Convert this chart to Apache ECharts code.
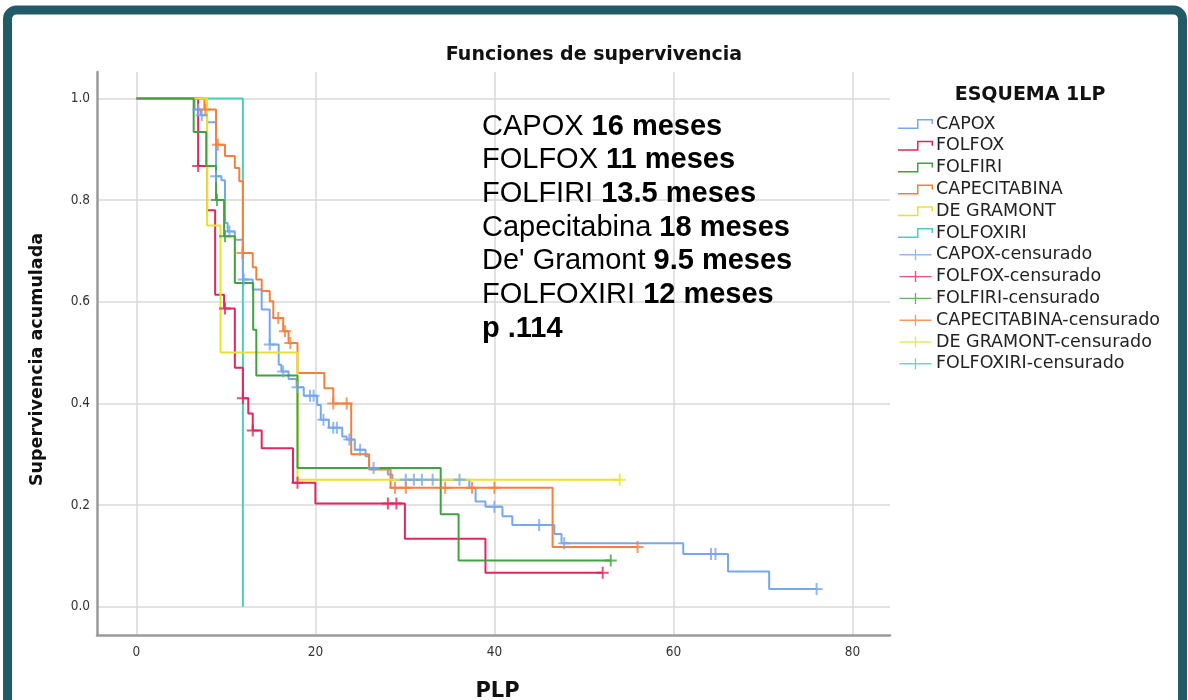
<!DOCTYPE html>
<html>
<head>
<meta charset="utf-8">
<script src="https://cdn.jsdelivr.net/npm/echarts@6/dist/echarts.min.js"></script>
<style>
html, body { margin: 0; padding: 0; background: #fff; }
#chart { width: 1188px; height: 700px; }
</style>
</head>
<body>
<div id="chart"></div>
<script>
// ticks
const xTicks = [0, 20, 40, 60, 80];
const yTicks = [0, 0.2, 0.4, 0.6, 0.8, 1.0];

// curvas de supervivencia (tiempo, supervivencia acumulada)
const capoxT = [0, 6.5, 7.2, 7.9, 8.9, 9.5, 9.9, 10.2, 11.0, 11.9, 13.0, 14.0, 14.9, 15.9, 16.2, 17.0, 17.9, 18.7, 20.2, 20.6, 21.5, 23.0, 23.5, 24.4, 25.6, 26.0, 28.1, 28.6, 37.2, 37.9, 39.0, 40.9, 42.0, 46.7, 47.5, 61.1, 66.1, 70.7, 76.0];
const capoxS = [1.0, 0.978, 0.967, 0.953, 0.847, 0.839, 0.755, 0.738, 0.722, 0.644, 0.624, 0.585, 0.516, 0.476, 0.463, 0.448, 0.432, 0.415, 0.397, 0.368, 0.352, 0.335, 0.329, 0.309, 0.296, 0.273, 0.26, 0.25, 0.234, 0.207, 0.197, 0.178, 0.161, 0.143, 0.125, 0.104, 0.0695, 0.035, 0.035];
const capoxCens = [[6.9, 0.978], [7.3, 0.967], [8.9, 0.847], [10.4, 0.738], [12.0, 0.644], [14.9, 0.516], [16.4, 0.463], [18.0, 0.432], [19.4, 0.415], [19.8, 0.415], [20.9, 0.368], [22.0, 0.352], [22.4, 0.352], [23.8, 0.329], [25.0, 0.309], [26.5, 0.273], [30.1, 0.25], [31.0, 0.25], [31.9, 0.25], [33.1, 0.25], [36.1, 0.25], [40.0, 0.197], [45.0, 0.161], [47.8, 0.125], [64.2, 0.104], [64.7, 0.104], [76.0, 0.035]];

const folfoxT = [0, 6.9, 7.9, 8.8, 9.8, 11.0, 11.9, 12.5, 13.0, 14.0, 17.5, 20.0, 30.0, 39.0, 52.1];
const folfoxS = [1.0, 0.867, 0.78, 0.614, 0.587, 0.47, 0.41, 0.38, 0.347, 0.312, 0.244, 0.203, 0.134, 0.067, 0.067];
const folfoxCens = [[6.9, 0.867], [9.9, 0.587], [11.9, 0.41], [13.0, 0.347], [18.0, 0.244], [28.1, 0.203], [29.05, 0.203], [52.1, 0.067]];

const folfiriT = [0, 6.4, 7.8, 8.9, 9.8, 11.0, 13.05, 13.4, 18.0, 34.0, 36.0, 53.0];
const folfiriS = [1.0, 0.934, 0.867, 0.80, 0.729, 0.637, 0.545, 0.455, 0.273, 0.182, 0.091, 0.091];
const folfiriCens = [[9.0, 0.80], [9.9, 0.729], [53.0, 0.091]];

const capeT = [0, 7.6, 8.9, 9.9, 11.0, 11.5, 11.9, 13.0, 13.4, 14.0, 14.9, 15.3, 16.4, 17.0, 18.0, 21.0, 22.0, 24.0, 26.0, 28.4, 46.5, 56.0];
const capeS = [1.0, 0.978, 0.909, 0.887, 0.863, 0.837, 0.696, 0.668, 0.644, 0.621, 0.601, 0.568, 0.542, 0.519, 0.46, 0.43, 0.40, 0.30, 0.27, 0.234, 0.1175, 0.1175];
const capeCens = [[7.7, 0.978], [9.1, 0.909], [11.85, 0.696], [15.85, 0.568], [16.6, 0.542], [17.2, 0.519], [22.0, 0.40], [23.5, 0.40], [28.9, 0.234], [30.1, 0.234], [34.5, 0.234], [37.5, 0.234], [40.0, 0.234], [56.0, 0.1175]];

const gramontT = [0, 7.9, 9.4, 18.0, 54.0];
const gramontS = [1.0, 0.75, 0.5, 0.25, 0.25];
const gramontCens = [[54.0, 0.25]];

const folfoxiriT = [0, 11.9];
const folfoxiriS = [1.0, 0.0];
const folfoxiriCens = [];

// texto del recuadro
const annotGroups = ['CAPOX', 'FOLFOX', 'FOLFIRI', 'Capecitabina', "De' Gramont", 'FOLFOXIRI'];
const annotMedians = ['16 meses', '11 meses', '13.5 meses', '18 meses', '9.5 meses', '12 meses'];
const annotP = 'p .114';

const groups = [
  { name: 'CAPOX', color: '#76a8f0', t: capoxT, s: capoxS, c: capoxCens },
  { name: 'FOLFOX', color: '#e3265c', t: folfoxT, s: folfoxS, c: folfoxCens },
  { name: 'FOLFIRI', color: '#43a043', t: folfiriT, s: folfiriS, c: folfiriCens },
  { name: 'CAPECITABINA', color: '#f5803e', t: capeT, s: capeS, c: capeCens },
  { name: 'DE GRAMONT', color: '#e8e22c', t: gramontT, s: gramontS, c: gramontCens },
  { name: 'FOLFOXIRI', color: '#48cfc0', t: folfoxiriT, s: folfoxiriS, c: folfoxiriCens }
];

const stepIcon = 'path://M0,8.5H19V0H35V5H33.5V1.5H20.5V10H0Z';
const plusIcon = 'path://M0,5.25H16.75V0H18.25V5.25H35V6.75H18.25V12H16.75V6.75H0Z';
const censSymbol = 'path://M5,0H7V5H12V7H7V12H5V7H0V5H5Z';

const condFont = "'DejaVu Sans Condensed', 'Liberation Sans Narrow', sans-serif";
const boldFont = "'DejaVu Sans', sans-serif";

const chart = echarts.init(document.getElementById('chart'));

// draw order: FOLFIRI last so it sits on top at the start
const drawOrder = [5, 0, 1, 3, 4, 2];
const lineSeries = drawOrder.map(i => {
  const g = groups[i];
  return {
    name: g.name,
    type: 'line',
    step: 'end',
    showSymbol: false,
    symbol: 'none',
    clip: false,
    color: g.color,
    lineStyle: { color: g.color, width: 2 },
    data: g.t.map((t, k) => [t, g.s[k]]),
    z: 2 + drawOrder.indexOf(i)
  };
});
const censSeries = groups.map(g => ({
  name: g.name + '-censurado',
  type: 'scatter',
  symbol: censSymbol,
  symbolSize: [12, 12],
  clip: false,
  color: g.color,
  itemStyle: { color: g.color },
  data: g.c,
  z: 10
}));

const legendData = groups.map(g => ({ name: g.name, icon: stepIcon }))
  .concat(groups.map(g => ({ name: g.name + '-censurado', icon: plusIcon })));

const annotText = annotGroups.map((g, i) => '{n|' + g + ' }{b|' + annotMedians[i] + '}').join('\n') + '\n{b|' + annotP + '}';

const option = {
  backgroundColor: '#fff',
  animation: false,
  title: [
    {
      text: 'Funciones de supervivencia',
      left: 'center',
      top: 41,
      textStyle: { fontFamily: boldFont, fontWeight: 'bold', fontSize: 19, color: '#111' }
    },
    {
      text: 'ESQUEMA 1LP',
      left: 1025,
      textAlign: 'center',
      top: 81,
      textStyle: { fontFamily: boldFont, fontWeight: 'bold', fontSize: 19, color: '#111' }
    }
  ],
  legend: {
    orient: 'vertical',
    left: 893,
    top: 110,
    itemWidth: 35,
    itemHeight: 11,
    itemGap: 3.8,
    textStyle: { fontFamily: "'DejaVu Sans', sans-serif", fontSize: 17.5, color: '#222', padding: [0, 0, 0, -2] },
    data: legendData,
    selectedMode: false
  },
  grid: { left: 97, right: 298, top: 72, bottom: 65, outerBoundsMode: 'none', containLabel: false },
  xAxis: {
    type: 'value',
    min: -4.4,
    max: 84.2,
    name: 'PLP',
    nameLocation: 'middle',
    nameGap: 46,
    nameTextStyle: { fontFamily: boldFont, fontWeight: 'bold', fontSize: 21, color: '#111', padding: [0, 0, 0, 8] },
    axisLine: { show: true, onZero: false, lineStyle: { color: '#9a9a9a', width: 2.5 } },
    axisTick: { show: false, customValues: xTicks },
    axisLabel: { customValues: xTicks, fontFamily: condFont, fontSize: 13.5, color: '#333', margin: 10 },
    splitLine: { show: true, lineStyle: { color: '#d8d8d8', width: 1.5 } }
  },
  yAxis: {
    type: 'value',
    min: -0.0555,
    max: 1.052,
    name: 'Supervivencia acumulada',
    nameLocation: 'middle',
    nameGap: 51,
    nameTextStyle: { fontFamily: boldFont, fontWeight: 'bold', fontSize: 17.5, color: '#111', padding: [0, 12, 0, 0] },
    axisLine: { show: true, onZero: false, lineStyle: { color: '#9a9a9a', width: 2.5 } },
    axisTick: { show: false, customValues: yTicks },
    axisLabel: { customValues: yTicks, formatter: v => v.toFixed(1), fontFamily: condFont, fontSize: 13.5, color: '#333', margin: 7 },
    splitLine: { show: true, lineStyle: { color: '#d8d8d8', width: 1.5 } }
  },
  graphic: [
    {
      type: 'rect',
      shape: { x: 7.5, y: 10, width: 1175, height: 760, r: 9 },
      style: { fill: 'none', stroke: '#235a68', lineWidth: 9 },
      silent: true,
      z: 100
    },
    {
      type: 'text',
      left: 482,
      top: 112,
      style: {
        text: annotText,
        fill: '#000',
        rich: {
          n: { fontFamily: "'Liberation Sans', Arial, sans-serif", fontSize: 29, lineHeight: 33.7, fill: '#000' },
          b: { fontFamily: "'Liberation Sans', Arial, sans-serif", fontSize: 29, fontWeight: 'bold', lineHeight: 33.7, fill: '#000' }
        }
      },
      z: 50
    }
  ],
  series: lineSeries.concat(censSeries)
};

chart.setOption(option);
</script>
</body>
</html>
